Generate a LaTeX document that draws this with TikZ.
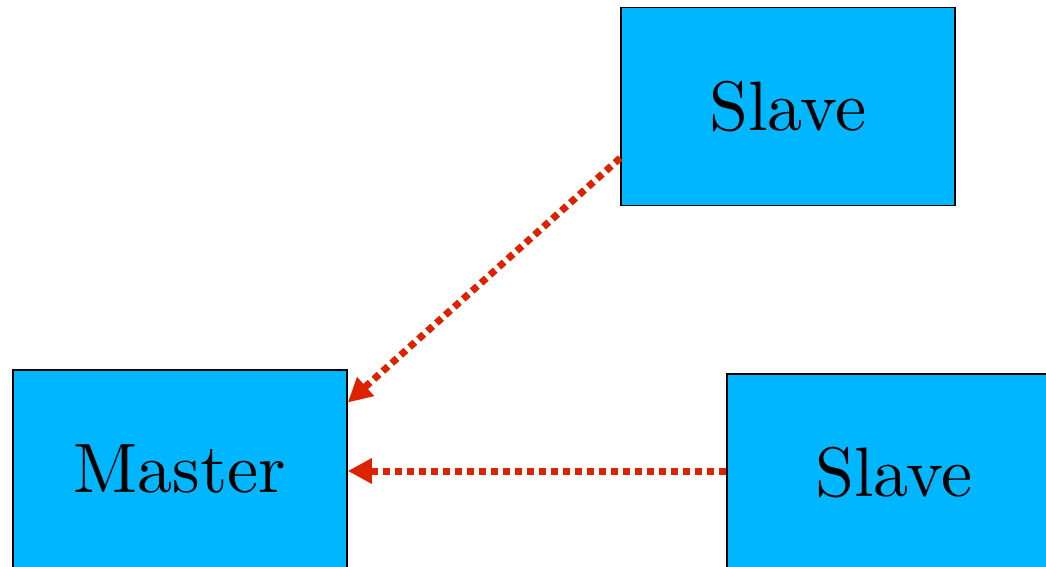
\documentclass[tikz,border=0pt]{standalone}
\usepackage{fontspec}
\newfontfamily\tenfont{lmroman10-regular.otf}
\usetikzlibrary{arrows.meta,calc}
\definecolor{boxblue}{HTML}{00B7FF}
\definecolor{linkred}{HTML}{DD2200}
\begin{document}
\begin{tikzpicture}[x=0.5pt,y=-0.5pt,
  unit/.style={draw=black,line width=0.8pt,fill=boxblue,minimum width=167pt,minimum height=99pt,inner sep=0pt,font=\tenfont\fontsize{35}{42}\selectfont},
  link/.style={draw=linkred,line width=3.5pt,dash pattern=on 3.5pt off 2.5pt,-{Triangle[length=12pt,width=12pt,color=linkred]},shorten >=0pt}]
\useasboundingbox (0,0) rectangle (1046,567);
\clip (0,0) rectangle (1046,567);
\node[unit] (s1) at (788,106.5) {Slave};
\node[unit] (m) at (180,469) {Master};
\node[unit] (s2) at (894,473) {Slave};
\draw[link] ($(s1.south west)!0.242!(s1.north west)$) -- ($(m.north east)!0.167!(m.south east)$);
\draw[link] ($(s2.west)+(0,-2)$) -- ($(s2.west -| m.east)+(0,-2)$);
\end{tikzpicture}
\end{document}
